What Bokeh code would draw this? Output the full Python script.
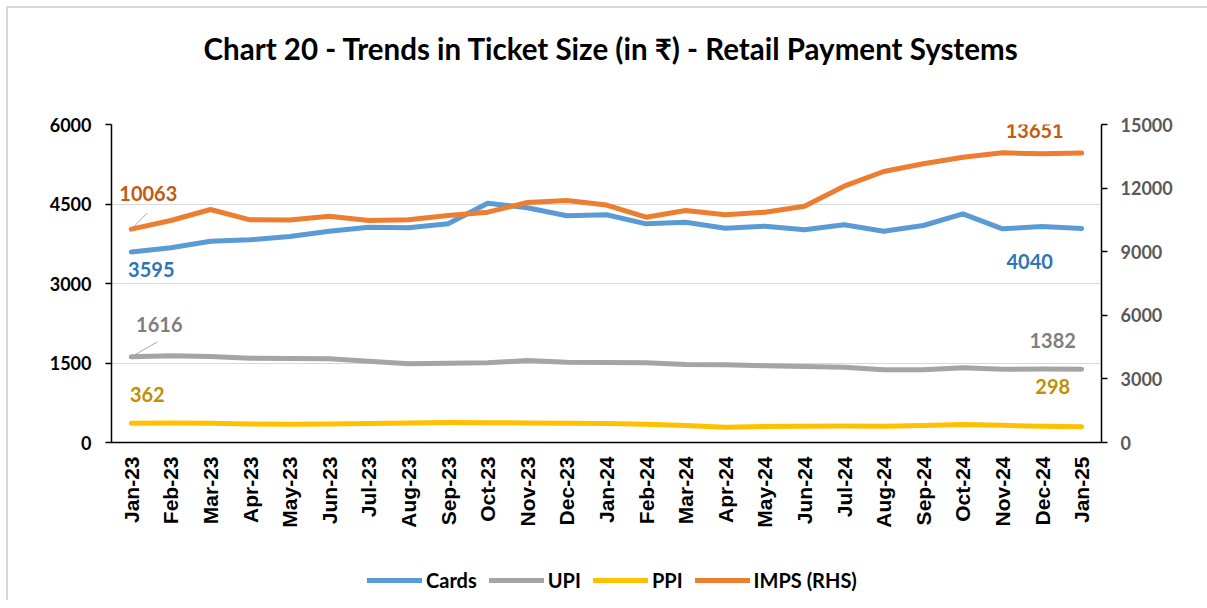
import math
from bokeh.plotting import figure
from bokeh.layouts import column
from bokeh.models import (LinearAxis, Range1d, FactorRange, Legend, LegendItem,
                          FixedTicker)
from bokeh.core.properties import value
from bokeh.embed import file_html
from bokeh.resources import INLINE

months = ["Jan-23", "Feb-23", "Mar-23", "Apr-23", "May-23", "Jun-23", "Jul-23",
          "Aug-23", "Sep-23", "Oct-23", "Nov-23", "Dec-23", "Jan-24", "Feb-24",
          "Mar-24", "Apr-24", "May-24", "Jun-24", "Jul-24", "Aug-24", "Sep-24",
          "Oct-24", "Nov-24", "Dec-24", "Jan-25"]
cards = [3595, 3673, 3798, 3824, 3887, 3987, 4062, 4050, 4126, 4515, 4428, 4277,
         4296, 4126, 4157, 4044, 4082, 4013, 4107, 3987, 4094, 4314, 4032, 4075, 4040]
upi = [1616, 1635, 1623, 1591, 1585, 1579, 1534, 1484, 1497, 1503, 1547, 1516,
       1510, 1503, 1472, 1466, 1447, 1434, 1421, 1371, 1371, 1409, 1383, 1385, 1382]
ppi = [362, 368, 365, 350, 345, 350, 358, 368, 378, 372, 370, 365,
       360, 345, 320, 290, 300, 305, 310, 305, 320, 340, 325, 305, 298]
imps = [10063, 10472, 10991, 10503, 10500, 10676, 10472, 10503, 10708, 10864, 11321, 11415,
        11200, 10629, 10943, 10739, 10864, 11147, 12090, 12783, 13145, 13459, 13664, 13617, 13651]

left_ticks = [0, 1500, 3000, 4500, 6000]
right_ticks = [0, 3000, 6000, 9000, 12000, 15000]
series_names = ["Cards", "UPI", "PPI", "IMPS (RHS)"]
series_colors = ["#5b9bd5", "#a5a5a5", "#ffc000", "#ed7d31"]

TITLE = "Chart 20 - Trends in Ticket Size (in \u20b9) - Retail Payment Systems"
FONT = "Lato"
W = 1199

# title strip
p3 = figure(width=W, height=80, x_range=Range1d(0, 1), y_range=Range1d(0, 1),
            output_backend="svg", toolbar_location=None, min_border=0,
            x_axis_type=None, y_axis_type=None)
p3.outline_line_color = None
p3.text(x=[0.5], y=[0.5], text=[TITLE], x_offset=5, text_align="center",
        text_baseline="middle", text_font=value(FONT), text_font_size="29.5px",
        text_font_style="bold", text_color="#000000")

p = figure(width=W, height=472, x_range=FactorRange(*months),
           y_range=Range1d(0, 6000), output_backend="svg", toolbar_location=None,
           min_border_left=103, min_border_right=W - 103 - 990, min_border_top=36,
           min_border_bottom=118)
p.extra_y_ranges = {"imps": Range1d(0, 15000)}
p.outline_line_color = None

# axes
ya = p.yaxis[0]
ya.ticker = FixedTicker(ticks=left_ticks)
ya.major_label_text_font = FONT
ya.major_label_text_font_style = "bold"
ya.major_label_text_font_size = "18px"
ya.major_label_text_color = "#000000"
ya.major_tick_out = 6
ya.major_tick_in = 0
ya.minor_tick_out = 0
ya.minor_tick_in = 0
ya.axis_line_color = "#000000"
ya.axis_line_width = 1.5
ya.major_tick_line_width = 1.5
ya.major_label_standoff = 14

ra = LinearAxis(y_range_name="imps", ticker=FixedTicker(ticks=right_ticks))
ra.major_label_text_font = FONT
ra.major_label_text_font_style = "bold"
ra.major_label_text_font_size = "18px"
ra.major_label_text_color = "#595959"
ra.major_tick_out = 6
ra.major_tick_in = 0
ra.minor_tick_out = 0
ra.minor_tick_in = 0
ra.axis_line_color = "#000000"
ra.axis_line_width = 1.5
ra.major_tick_line_width = 1.5
ra.major_label_standoff = 13
p.add_layout(ra, "right")

xa = p.xaxis[0]
xa.major_label_orientation = math.pi / 2
xa.major_label_text_font = "Liberation Sans"
xa.major_label_text_font_style = "bold"
xa.major_label_text_font_size = "21px"
xa.major_label_text_color = "#000000"
xa.major_tick_out = 0
xa.major_tick_in = 0
xa.axis_line_color = "#000000"
xa.axis_line_width = 1.5
xa.major_label_standoff = 14

p.xgrid.grid_line_color = None
p.ygrid.grid_line_color = "#d9d9d9"
p.ygrid.grid_line_width = 1

# series
line_kw = dict(line_width=5, line_cap="round", line_join="round")
p.line(months, cards, color=series_colors[0], **line_kw)
p.line(months, upi, color=series_colors[1], **line_kw)
p.line(months, ppi, color=series_colors[2], **line_kw)
p.line(months, imps, color=series_colors[3], y_range_name="imps", **line_kw)

# leader lines (start at first point, synthetic categorical coordinate)
fx = 0.5
p.segment(x0=[fx], y0=[imps[0]], x1=[fx + 0.40], y1=[imps[0] + 755],
          line_color="#a6a6a6", line_width=1, y_range_name="imps")
p.segment(x0=[fx], y0=[upi[0]], x1=[fx + 0.66], y1=[upi[0] + 283],
          line_color="#a6a6a6", line_width=1)

# data labels
def lab(xv, yv, color, dx, dy, rng="default"):
    p.text(x=[xv], y=[yv], text=[str(yv)], x_offset=dx, y_offset=dy,
           text_align="center", text_baseline="middle", text_color=color,
           text_font=value(FONT), text_font_style="bold", text_font_size="20px",
           y_range_name=rng)

lab(months[0], imps[0], "#c55a11", 17, -36, "imps")
lab(months[0], cards[0], "#2e75b6", 20, 18)
lab(months[0], upi[0], "#7f7f7f", 28, -32)
lab(months[0], ppi[0], "#bf9000", 16, -29)
lab(months[-1], imps[-1], "#c55a11", -47, -23, "imps")
lab(months[-1], cards[-1], "#2e75b6", -52, 33)
lab(months[-1], upi[-1], "#7f7f7f", -29, -29)
lab(months[-1], ppi[-1], "#bf9000", -29, -40)

# legend strip below the chart (swatch renderers sit outside the visible range)
p2 = figure(width=W, height=40, x_range=Range1d(0, 1), y_range=Range1d(0, 1),
            output_backend="svg", toolbar_location=None, min_border=0,
            x_axis_type=None, y_axis_type=None)
p2.outline_line_color = None
items = []
for name, col in zip(series_names, series_colors):
    r = p2.line(x=[5, 6], y=[5, 5], color=col, **line_kw)
    items.append(LegendItem(label=name, renderers=[r]))
legend = Legend(items=items, orientation="horizontal", location=(256, 8),
                glyph_width=55, glyph_height=20, label_standoff=4, spacing=12,
                label_text_font=FONT, label_text_font_style="bold",
                label_text_font_size="20px", label_text_color="#000000",
                border_line_color=None, background_fill_alpha=0,
                padding=0, margin=0)
p2.add_layout(legend, "center")

layout = column(p3, p, p2, spacing=0)
layout.styles = {"margin-left": "6px", "margin-top": "6px",
                 "border-left": "2px solid #d9d9d9", "border-top": "2px solid #d9d9d9"}
open("out.html", "w").write(file_html(layout, INLINE))
